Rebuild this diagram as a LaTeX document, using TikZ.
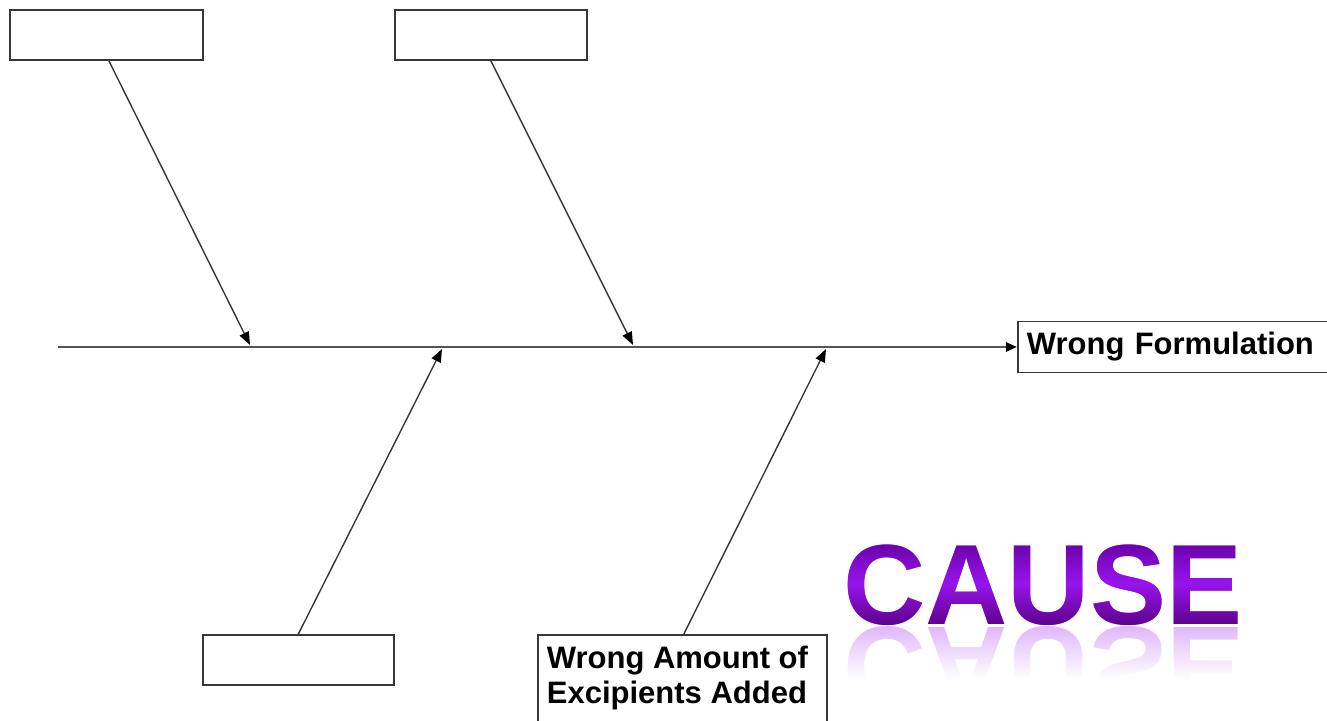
\documentclass[tikz,border=0pt]{standalone}
\usepackage{fontspec}
\setmainfont{Liberation Sans}
\usetikzlibrary{arrows.meta,fadings,calc}

\newcommand{\labelfont}{\bfseries\fontsize{31}{35}\selectfont}
\newcommand{\causefont}{\bfseries\fontsize{114}{118}\selectfont}

\definecolor{causetop}{RGB}{100,0,160}
\definecolor{causemid}{RGB}{152,20,236}
\definecolor{causebot}{RGB}{88,0,132}
\definecolor{edgegray}{RGB}{55,55,55}
\definecolor{spinegray}{RGB}{85,85,85}

% mask in the shape of the title word, used for its vertical gradient
\begin{tikzfadingfrompicture}[name=causefade]
  \path[use as bounding box] (-230pt,-45pt) rectangle (230pt,45pt);
  \node[anchor=base, inner sep=0pt, text=transparent!0, font=\causefont] (fadeword) at (0pt,-40.8pt) {CAUSE};
\end{tikzfadingfrompicture}

% transparent at the top, opaque at the bottom
\tikzfading[name=reflfade, top color=transparent!100, bottom color=transparent!0]

\begin{document}
\begin{tikzpicture}[x=1pt,y=1pt,
  box/.style={draw=edgegray, line width=1.7pt, fill=white, rectangle, inner sep=0pt},
  labelbox/.style={box, font=\labelfont, inner xsep=9pt, inner ysep=11pt},
  branch/.style={draw=edgegray, line width=1.4pt, -{Triangle[length=13pt,width=10pt,color=black]}},
  spine/.style={draw=spinegray, line width=2.4pt, -{Triangle[length=11pt,width=9pt,color=black]}}
]
\useasboundingbox (0,0) rectangle (1327,-720);

% cause boxes
\node[box, anchor=north west, minimum width=193pt, minimum height=50pt] (b1) at (9,-9) {};
\node[box, anchor=north west, minimum width=192pt, minimum height=50pt] (b2) at (394,-9) {};
\node[box, anchor=north west, minimum width=191pt, minimum height=50pt] (b3) at (202,-634) {};
\node[labelbox, anchor=north west] (b4) at (537,-634)
  {\parbox[t][100pt][t]{271pt}{Wrong Amount of\\Excipients Added}};

% effect box
\node[labelbox, anchor=west, text width=292pt, align=left, minimum height=50pt] (wf) at (1017,-347) {Wrong Formulation};

% spine
\coordinate (sp) at (58,-347);
\draw[spine] (sp) -- (wf.west);

% branch ends on the spine
\coordinate (t1) at (250,-345);
\coordinate (t2) at (633,-345);
\coordinate (t3) at (442,-349);
\coordinate (t4) at (826,-349);

\draw[branch] ([xshift=2.5pt]b1.south) -- (t1);
\draw[branch] (b2.south) -- (t2);
\draw[branch] (b3.north) -- (t3);
\draw[branch] ([xshift=1.5pt]b4.north) -- (t4);

% title word with gradient and reflection
\node[font=\causefont, anchor=base west, inner sep=0pt, text=causemid] (cause) at (843,-624) {CAUSE};
\coordinate (causec) at ($(cause.base)+(0,40.8)$);
\shade[path fading=causefade, fit fading=false, fading transform={shift={(causec)}},
       top color=causetop, bottom color=causebot, middle color=causemid]
  ($(causec)+(-230,-45)$) rectangle ($(causec)+(230,45)$);
\node[font=\causefont, anchor=base west, inner sep=0pt, text=causemid, opacity=0.3, yscale=-1, transform shape] (causerefl) at (843,-627) {CAUSE};
\fill[white, path fading=reflfade] (836,-627) rectangle (1250,-678);
\fill[white] (836,-677.5) rectangle (1250,-720);
\end{tikzpicture}
\end{document}
